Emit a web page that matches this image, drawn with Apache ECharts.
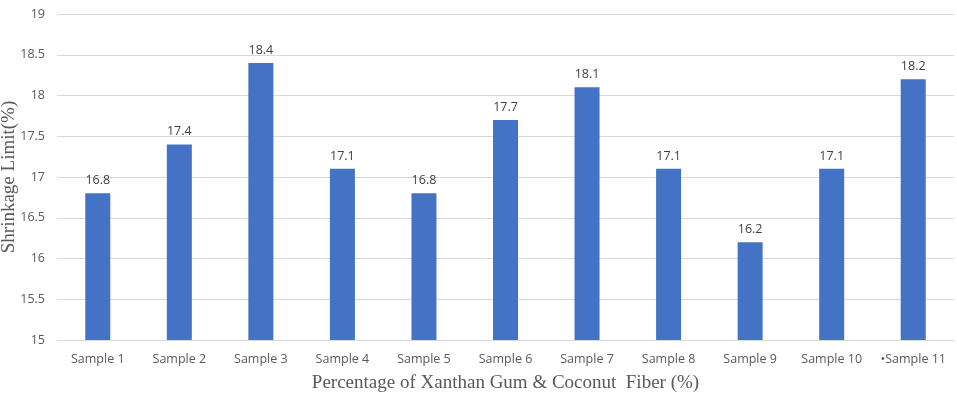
<!DOCTYPE html>
<html><head><meta charset="utf-8">
<script src="https://cdn.jsdelivr.net/npm/echarts@6/dist/echarts.min.js"></script>
<style>html,body{margin:0;padding:0;background:#fff}#c{width:957px;height:397px}</style>
</head><body><div id="c"></div>
<script>
var categories = ['Sample 1','Sample 2','Sample 3','Sample 4','Sample 5','Sample 6','Sample 7','Sample 8','Sample 9','Sample 10','\u2022Sample 11'];
var values = [16.8,17.4,18.4,17.1,16.8,17.7,18.1,17.1,16.2,17.1,18.2];
var yTitle = 'Shrinkage Limit(%)';
var xTitle = 'Percentage of Xanthan Gum & Coconut  Fiber (%)';
var chart = echarts.init(document.getElementById('c'));
chart.setOption({
  animation:false,
  grid:{left:57,right:3,top:14,bottom:57,containLabel:false,outerBoundsMode:'none'},
  xAxis:{type:'category',data:categories,
    axisLine:{lineStyle:{color:'#d9d9d9'}},axisTick:{show:false},
    axisLabel:{color:'#595959',fontSize:12.5,fontFamily:'Open Sans',margin:13,interval:0},
    name:xTitle,nameLocation:'middle',nameGap:34,nameMoveOverlap:false,
    nameTextStyle:{color:'#595959',fontSize:19,fontFamily:'Liberation Serif'}},
  yAxis:{type:'value',min:15,max:19,interval:0.5,
    axisLine:{show:false},axisTick:{show:false},
    splitLine:{lineStyle:{color:'#d9d9d9'}},
    axisLabel:{color:'#595959',fontSize:12.5,fontFamily:'Open Sans',margin:12},
    name:yTitle,nameLocation:'middle',nameGap:38,nameMoveOverlap:false,
    nameTextStyle:{color:'#595959',fontSize:19,fontFamily:'Liberation Serif'}},
  series:[{type:'bar',data:values,barWidth:25,
    itemStyle:{color:'#4472C4'},
    label:{show:true,position:'top',color:'#404040',fontSize:12.5,fontFamily:'Open Sans',distance:6}}]
});
</script></body></html>
